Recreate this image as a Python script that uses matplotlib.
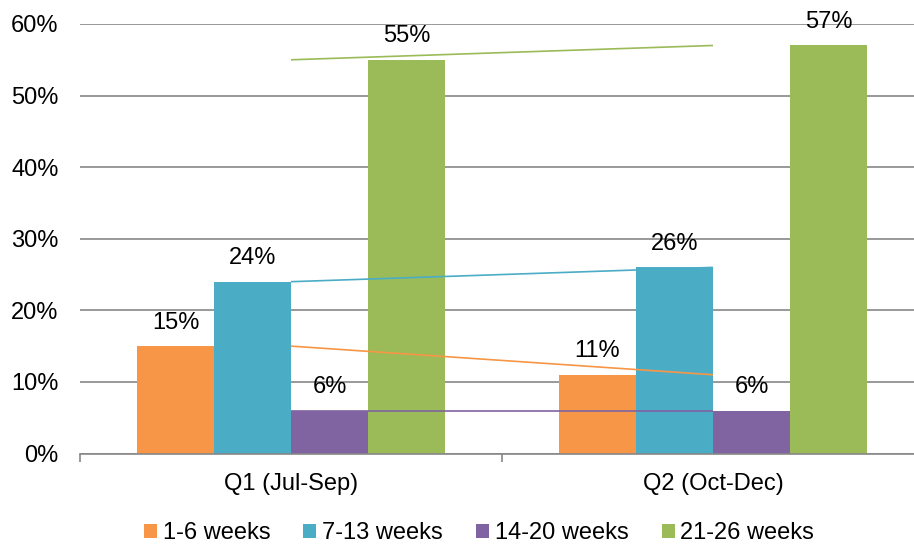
import matplotlib
matplotlib.use("Agg")
import matplotlib.pyplot as plt
from matplotlib.patches import Patch
from matplotlib.ticker import FuncFormatter, FixedLocator
import numpy as np

plt.rcParams['font.family'] = ['Liberation Sans', 'DejaVu Sans']

categories = ["Q1 (Jul-Sep)", "Q2 (Oct-Dec)"]
series_names = ["1-6 weeks", "7-13 weeks", "14-20 weeks", "21-26 weeks"]
weeks_1_6 = [15, 11]
weeks_7_13 = [24, 26]
weeks_14_20 = [6, 6]
weeks_21_26 = [55, 57]
yticks = [0, 10, 20, 30, 40, 50, 60]

series_values = [weeks_1_6, weeks_7_13, weeks_14_20, weeks_21_26]
colors = ["#F79646", "#4BACC6", "#8064A2", "#9BBB59"]

fig = plt.figure(figsize=(9.14, 5.47), dpi=100)
ax = fig.add_axes([80 / 914, 93.5 / 547, 844 / 914, 429.5 / 547])

x = np.arange(len(categories))
w = 0.1825
fs = 17

for i, (vals, c) in enumerate(zip(series_values, colors)):
    offs = (i - 1.5) * w
    ax.bar(x + offs, vals, width=w, color=c, edgecolor="none", zorder=2)
    for xi, v in zip(x, vals):
        ax.annotate(f"{v}%", (xi + offs, v), xytext=(0, 17.0), textcoords="offset points",
                    ha="center", va="center", fontsize=fs, color="#000000", zorder=4)
    # series line connecting the values across quarters
    ax.plot(x, vals, color=c, lw=1.2, zorder=3, solid_capstyle="butt")

ax.set_xlim(-0.5, 1.5)
ax.set_ylim(0, 60)
ax.set_yticks(yticks)
ax.yaxis.set_major_formatter(FuncFormatter(lambda v, p: f"{v:.0f}%"))
ax.grid(axis="y", color="#878787", lw=1.2, zorder=1)
ax.set_axisbelow(True)

ax.set_xticks(x)
ax.set_xticklabels(categories)
ax.xaxis.set_minor_locator(FixedLocator([-0.5, 0.5, 1.5]))
ax.tick_params(axis="x", which="major", length=0, pad=14, labelsize=fs)
ax.tick_params(axis="x", which="minor", length=6, width=1.2, color="#878787")
ax.tick_params(axis="y", length=0, pad=15.5, labelsize=fs)

for s in ["left", "right", "top"]:
    ax.spines[s].set_visible(False)
ax.spines["bottom"].set_color("#878787")
ax.spines["bottom"].set_linewidth(1.2)

handles = [Patch(facecolor=c, edgecolor="none") for c in colors]
fig.legend(handles, series_names, loc="center", bbox_to_anchor=(479 / 914, 14 / 547),
           ncol=4, frameon=False, fontsize=fs, handlelength=0.55, handleheight=0.55,
           handletextpad=0.25, columnspacing=1.4, borderpad=0, borderaxespad=0)

fig.savefig("out.png", dpi=100)
